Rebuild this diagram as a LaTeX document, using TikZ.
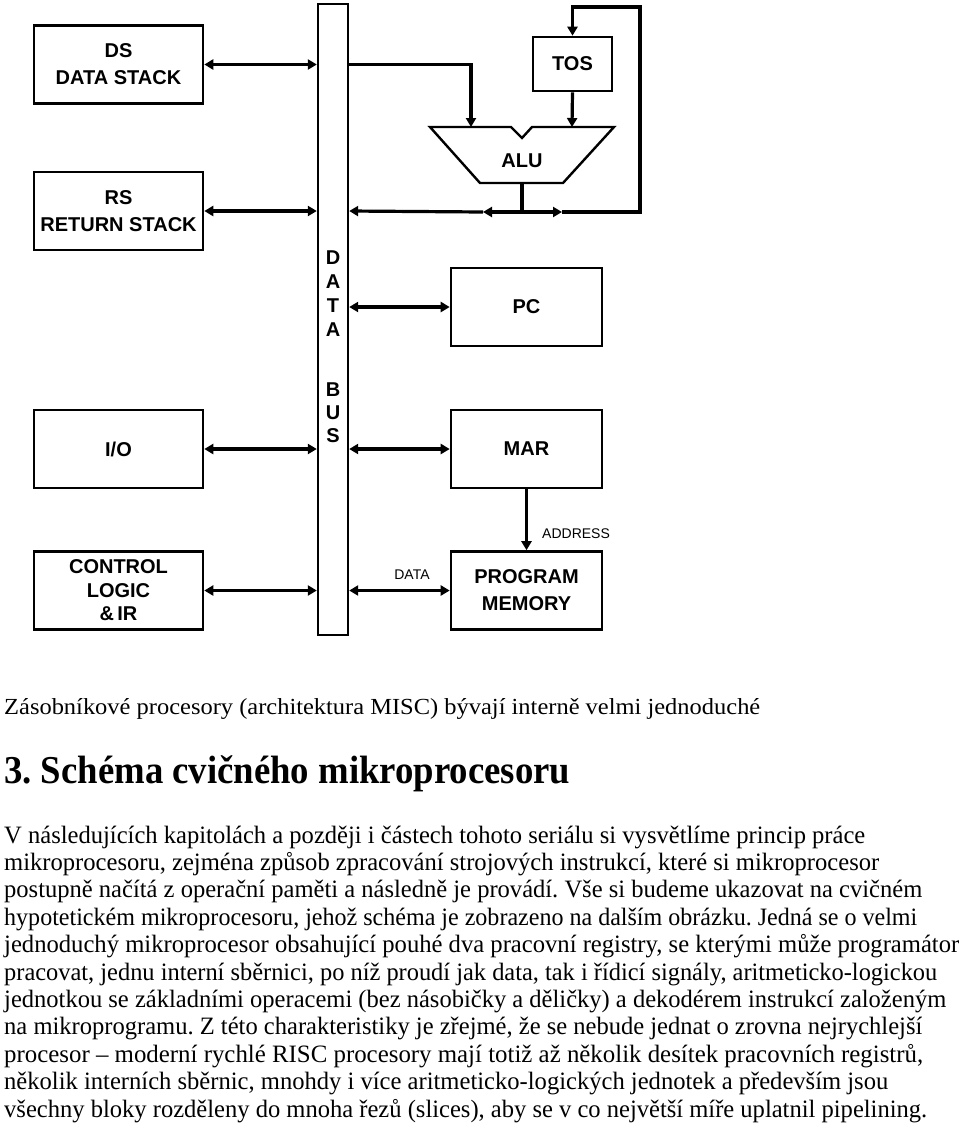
\documentclass[tikz,border=0pt]{standalone}
\usepackage{fontspec}
\usepackage{graphicx}
\setmainfont{Liberation Serif}
\newfontfamily\diagfont{Liberation Sans}
\usetikzlibrary{arrows.meta}
\frenchspacing
\tikzset{
  blk/.style={draw, line width=2.6pt, inner sep=1pt, minimum width=169pt, minimum height=78pt,
              align=center, font=\diagfont\bfseries\fontsize{20}{27}\selectfont},
  busbox/.style={draw, line width=2.4pt, inner sep=0pt, minimum width=30pt, minimum height=631pt},
  busletter/.style={inner sep=0pt, font=\diagfont\bfseries\fontsize{20}{24}\selectfont},
  wire/.style={line width=3.2pt, line join=miter},
  arr/.style={wire, -{Triangle[length=9pt,width=10pt]}},
  dbl/.style={wire, {Triangle[length=9pt,width=10pt]}-{Triangle[length=9pt,width=10pt]}},
  small/.style={inner sep=0pt, font=\diagfont\fontsize{14}{16}\selectfont},
  bodyline/.style={anchor=base west, inner sep=0pt, font=\fontsize{25}{27}\selectfont},
}
\begin{document}
\begin{tikzpicture}[x=1pt,y=-1pt]
\useasboundingbox[fill=white] (0,0) rectangle (960,1133);

% blocks
\node[blk] (ds) at (118.5,64.5) {DS\\DATA STACK};
\node[blk] (rs) at (118.5,211) {RS\\RETURN STACK};
\node[blk] (io) at (118.5,449) {I/O};
\node[blk, font=\diagfont\bfseries\fontsize{20}{23.5}\selectfont] (cl) at (118.5,590.5) {CONTROL\\LOGIC\\\&\,IR};
\node[busbox] (bus) at (333,319.5) {};
\node[blk, minimum width=79pt, minimum height=54pt] (tos) at (572.5,64) {TOS};
\node[blk, minimum width=151pt] (pc) at (526.5,307) {PC};
\node[blk, minimum width=151pt] (mar) at (526.5,449) {MAR};
\node[blk, minimum width=151pt] (pm) at (526.5,590.5) {PROGRAM\\MEMORY};

% bus letters
\node[busletter] (b1) at (333,258) {D};
\node[busletter] (b2) at (333,282) {A};
\node[busletter] (b3) at (333,306) {T};
\node[busletter] (b4) at (333,330) {A};
\node[busletter] (b5) at (333,390) {B};
\node[busletter] (b6) at (333,413) {U};
\node[busletter] (b7) at (333,436) {S};

% ALU
\draw[line width=2.4pt, line join=miter] (430,127) -- (511,127) -- (522,138) -- (532,127) -- (614,127)
   -- (563,183) -- (480,183) -- cycle;
\node[busletter] (alu) at (522,161) {ALU};
\coordinate (aluL) at (471,127);
\coordinate (aluR) at (572,127);
\coordinate (aluB) at (522,183);
\coordinate (j) at (522,212);
\coordinate (mL) at (483,212);
\coordinate (mR) at (562,212);
\coordinate (loop) at (640,7);

% connectors left side
\draw[dbl] (ds.east) -- (ds.east -| bus.west);
\draw[dbl] (rs.east) -- (rs.east -| bus.west);
\draw[dbl] (io.east) -- (io.east -| bus.west);
\draw[dbl] (cl.east) -- (cl.east -| bus.west);

% connectors right side
\draw[dbl] (pc.west -| bus.east) -- (pc.west);
\draw[dbl] (mar.west -| bus.east) -- (mar.west);
\draw[dbl] (pm.west -| bus.east) -- (pm.west);
\draw[arr] (ds.east -| bus.east) -| (aluL);
\draw[arr] (tos.south) -- (aluR);
\draw[wire] (aluB) -- (j);
\draw[arr] (j) -- (mL);
\draw[arr] (j) -- (mR);
\draw[arr] (mL) -- (rs.east -| bus.east);
\draw[arr] (mR) -| (loop) -| (tos.north);
\draw[arr] (mar.south) -- (pm.north);

\node[small, anchor=west] (addr) at (542,534) {ADDRESS};
\node[small] (data) at (412,575) {DATA};

% text
\node[anchor=base west, inner sep=0pt, font=\fontsize{23}{26}\selectfont] (t0) at (4,714)
  {\resizebox{756pt}{\height}{Zásobníkové procesory (architektura MISC) bývají interně velmi jednoduché}};
\node[anchor=base west, inner sep=0pt, font=\bfseries\fontsize{39.5}{44}\selectfont] (h) at (4,783)
  {\resizebox{566pt}{\height}{3. Schéma cvičného mikroprocesoru}};

\node[bodyline] (l1) at (4,843) {\resizebox{861pt}{\height}{V následujících kapitolách a později i částech tohoto seriálu si vysvětlíme princip práce}};
\node[bodyline] (l2) at (4,870.4) {\resizebox{875pt}{\height}{mikroprocesoru, zejména způsob zpracování strojových instrukcí, které si mikroprocesor}};
\node[bodyline] (l3) at (4,897.8) {\resizebox{918pt}{\height}{postupně načítá z operační paměti a následně je provádí. Vše si budeme ukazovat na cvičném}};
\node[bodyline] (l4) at (4,925.2) {\resizebox{913pt}{\height}{hypotetickém mikroprocesoru, jehož schéma je zobrazeno na dalším obrázku. Jedná se o velmi}};
\node[bodyline] (l5) at (4,952.6) {\resizebox{955pt}{\height}{jednoduchý mikroprocesor obsahující pouhé dva pracovní registry, se kterými může programátor}};
\node[bodyline] (l6) at (4,980) {\resizebox{933pt}{\height}{pracovat, jednu interní sběrnici, po níž proudí jak data, tak i řídicí signály, aritmeticko-logickou}};
\node[bodyline] (l7) at (4,1007.4) {\resizebox{942pt}{\height}{jednotkou se základními operacemi (bez násobičky a děličky) a dekodérem instrukcí založeným}};
\node[bodyline] (l8) at (4,1034.8) {\resizebox{918pt}{\height}{na mikroprogramu. Z této charakteristiky je zřejmé, že se nebude jednat o zrovna nejrychlejší}};
\node[bodyline] (l9) at (4,1062.2) {\resizebox{919pt}{\height}{procesor – moderní rychlé RISC procesory mají totiž až několik desítek pracovních registrů,}};
\node[bodyline] (l10) at (4,1089.6) {\resizebox{884pt}{\height}{několik interních sběrnic, mnohdy i více aritmeticko-logických jednotek a především jsou}};
\node[bodyline] (l11) at (4,1117) {\resizebox{923pt}{\height}{všechny bloky rozděleny do mnoha řezů (slices), aby se v co největší míře uplatnil pipelining.}};
\end{tikzpicture}
\end{document}
